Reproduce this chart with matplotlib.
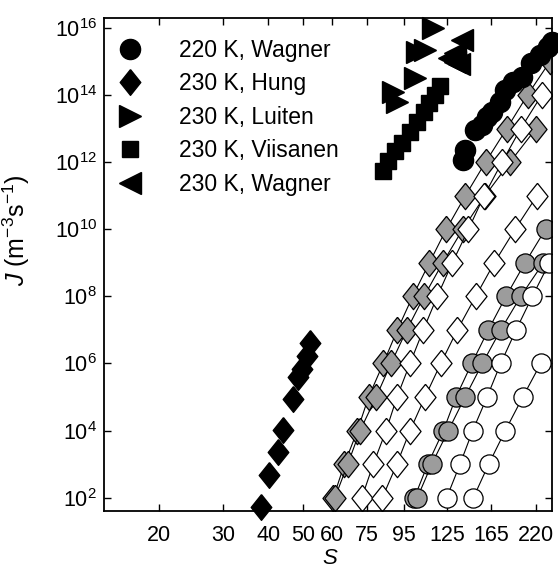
import numpy as np
import matplotlib.pyplot as plt
from matplotlib.ticker import FixedLocator, FixedFormatter, NullLocator

plt.rcParams['font.family'] = ['Liberation Sans', 'DejaVu Sans']
plt.rcParams['mathtext.fontset'] = 'custom'
plt.rcParams['mathtext.rm'] = 'Liberation Sans'
plt.rcParams['mathtext.it'] = 'Liberation Sans:italic'

# measured data: supersaturation S and log10(J)
wag220_S = [138.3, 139.8, 149.0, 155.8, 160.8, 166.0, 174.7, 180.3, 189.7, 200.9, 212.7, 225.3, 237.0, 243.1]
wag220_logJ = [12.06, 12.36, 12.96, 13.11, 13.34, 13.49, 13.79, 14.15, 14.39, 14.54, 14.95, 15.19, 15.43, 15.58]

hung_S = [38.3, 40.3, 42.6, 43.8, 46.9, 48.4, 49.5, 51.3, 52.2]
hung_logJ = [1.71, 2.68, 3.37, 4.02, 4.94, 5.61, 5.83, 6.22, 6.60]

luiten_S = [114.0, 108.4, 103.0, 101.7, 88.6, 90.6]
luiten_logJ = [15.99, 15.34, 15.28, 14.50, 14.10, 13.80]

viis_S = [83.1, 85.8, 89.6, 93.5, 98.5, 102.8, 107.7, 111.2, 115.5, 119.2]
viis_logJ = [11.74, 12.03, 12.33, 12.57, 12.90, 13.20, 13.49, 13.76, 14.00, 14.27]

wag230_S = [137.0, 131.2, 126.3, 131.0, 134.5]
wag230_logJ = [15.64, 15.25, 15.10, 14.98, 14.92]

# model curves: S at J = 10^k
g1_k = [2, 3, 4, 5, 6, 7, 8, 9, 10, 11, 12, 13, 14, 15]
g1_S = [60.5, 64.9, 70.5, 75.7, 83.1, 90.9, 100.2, 111.4, 124.1, 140.1, 159.3, 182.3, 208.0, 240.0]
g2_k = [2, 3, 4, 5, 6, 7, 8, 9, 10, 11, 12, 13]
g2_S = [61.1, 66.3, 71.7, 79.4, 87.3, 96.5, 107.7, 121.3, 137.8, 158.8, 186.1, 219.6]
w1_k = [2, 3, 4, 5, 6, 7, 8, 9, 10, 11, 12, 13, 14]
w1_S = [72.5, 78.0, 84.6, 90.7, 98.5, 107.2, 117.2, 128.9, 142.9, 157.8, 176.9, 199.2, 227.7]
w2_k = [2, 3, 4, 5, 6, 7, 8, 9, 10, 11]
w2_S = [82.6, 90.6, 98.5, 108.4, 119.8, 133.1, 149.6, 168.4, 192.2, 221.0]
gc1_k = [2, 3, 4, 5, 6, 7, 8, 9, 10]
gc1_S = [101.3, 110.3, 121.8, 132.0, 145.9, 162.1, 181.4, 204.8, 233.3]
gc2_k = [2, 3, 4, 5, 6, 7, 8, 9]
gc2_S = [103.2, 113.1, 125.7, 139.8, 156.1, 175.4, 199.2, 230.1]
wc1_k = [2, 3, 4, 5, 6, 7, 8, 9]
wc1_S = [124.4, 135.4, 146.8, 160.8, 175.4, 193.4, 214.5, 239.0]
wc2_k = [2, 3, 4, 5, 6]
wc2_S = [147.4, 162.5, 180.6, 201.8, 226.3]

xticks = [20, 30, 40, 50, 60, 75, 95, 125, 165, 220]
yticks = [1e2, 1e4, 1e6, 1e8, 1e10, 1e12, 1e14, 1e16]

gray = '#9c9c9c'
diamond = [(0, 1), (0.8, 0), (0, -1), (-0.8, 0), (0, 1)]

fig = plt.figure(figsize=(5.58, 5.72), dpi=100)
ax = fig.add_axes([0.1864, 0.1066, 0.8029, 0.8619])

def model(S, k, marker, fc, ms):
    ax.plot(S, 10.0 ** np.array(k), '-', color='k', lw=0.8, marker=marker,
            mfc=fc, mec='k', mew=0.9, ms=ms, zorder=2)

model(g1_S, g1_k, diamond, gray, 19)
model(g2_S, g2_k, diamond, gray, 19)
model(w1_S, w1_k, diamond, 'white', 19)
model(w2_S, w2_k, diamond, 'white', 19)
model(gc1_S, gc1_k, 'o', gray, 13.8)
model(gc2_S, gc2_k, 'o', gray, 13.8)
model(wc1_S, wc1_k, 'o', 'white', 13.8)
model(wc2_S, wc2_k, 'o', 'white', 13.8)

def exp(S, logJ, marker, ms, label):
    ax.plot(S, 10.0 ** np.array(logJ), ls='none', marker=marker, color='k',
            ms=ms, clip_on=False, zorder=3, label=label)

exp(wag220_S, wag220_logJ, 'o', 14.5, '220 K, Wagner')
exp(hung_S, hung_logJ, diamond, 18.5, '230 K, Hung')
exp(luiten_S, luiten_logJ, '>', 16, '230 K, Luiten')
exp(viis_S, viis_logJ, 's', 11, '230 K, Viisanen')
exp(wag230_S, wag230_logJ, '<', 16, '230 K, Wagner')

ax.set_xscale('log')
ax.set_yscale('log')
ax.set_xlim(14.07, 243.1)
ax.set_ylim(10 ** 1.604, 10 ** 16.294)

ax.xaxis.set_major_locator(FixedLocator(xticks))
ax.xaxis.set_major_formatter(FixedFormatter([str(t) for t in xticks]))
ax.xaxis.set_minor_locator(NullLocator())
ax.yaxis.set_major_locator(FixedLocator(yticks))
ax.yaxis.set_minor_locator(NullLocator())

ax.tick_params(direction='in', top=True, right=True, length=5, width=1, labelsize=15.5)
ax.tick_params(axis='x', pad=10)
ax.tick_params(axis='y', pad=5)
for sp in ax.spines.values():
    sp.set_linewidth(1.3)

ax.set_xlabel('$S$', fontsize=16)
ax.xaxis.set_label_coords(0.505, -0.075)
ax.set_ylabel('$J$ (m$^{-3}$s$^{-1}$)', fontsize=18)
ax.yaxis.set_label_coords(-0.16, 0.57)

ax.legend(loc='upper left', bbox_to_anchor=(0.03, 0.958), frameon=False, fontsize=16.5,
          numpoints=1, handlelength=1.1, handletextpad=1.6, labelspacing=0.46,
          borderpad=0, borderaxespad=0)

fig.savefig('out.png', dpi=100)
